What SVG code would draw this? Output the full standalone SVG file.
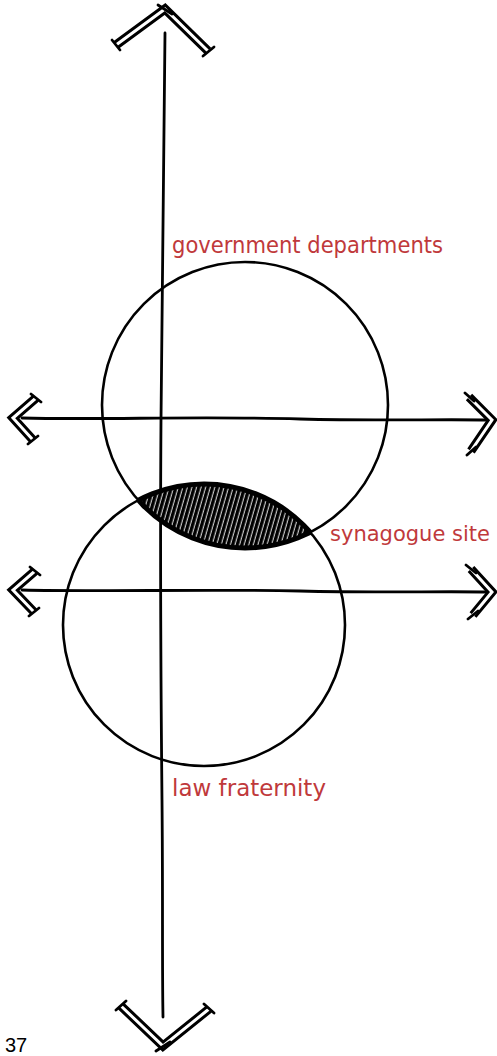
<svg xmlns="http://www.w3.org/2000/svg" width="497" height="1056" viewBox="0 0 497 1056">
<style>
.line{fill:none;stroke:#000;stroke-width:2.8;stroke-linecap:round;stroke-linejoin:round}
.ring{fill:none;stroke:#000;stroke-width:2.6}
.chevO{fill:none;stroke:#000;stroke-width:9;stroke-linejoin:miter;stroke-linecap:butt}
.chevI{fill:none;stroke:#fff;stroke-width:3;stroke-linejoin:miter;stroke-linecap:butt}
.tick{fill:none;stroke:#000;stroke-width:2.8;stroke-linecap:round}
.lbl{font-family:"DejaVu Sans","Liberation Sans",sans-serif;font-size:23px;fill:#c0393b}
</style>
<defs>
<pattern id="hatch" patternUnits="userSpaceOnUse" width="4.4" height="6" patternTransform="rotate(16)">
<rect width="4.4" height="6" fill="#000"/>
<line x1="2" y1="0" x2="2" y2="6" stroke="#fff" stroke-width="0.9"/>
</pattern>
<clipPath id="lowerClip"><circle cx="204" cy="625" r="141"/></clipPath>
<clipPath id="upperClip"><circle cx="245" cy="405" r="143"/></clipPath>
</defs>
<g id="connectors">
<g id="axis-vertical">
<path class="line" d="M165,33 C163,120 162,250 161,420 C160,560 161,700 162,800 C163,900 162,960 163,1017"/>
<path class="chevO" d="M116,45 L165,9 L208,51"/>
<path class="chevI" d="M116,45 L165,9 L208,51"/>
<path class="tick" d="M158,5 L172,14 M112,40 L120,50 M203,56 L214,47"/>
<path class="chevO" d="M121,1006 L163,1046 L209,1009"/>
<path class="chevI" d="M121,1006 L163,1046 L209,1009"/>
<path class="tick" d="M156,1051 L170,1042 M116,1010 L126,1001 M204,1004 L214,1013"/>
</g>
<g id="axis-upper">
<path class="line" d="M22,418 C100,420 200,416 300,419 C380,421 440,419 490,420"/>
<path class="chevO" d="M36,398 L13,418 L33,440"/>
<path class="chevI" d="M36,398 L13,418 L33,440"/>
<path class="chevO" d="M469,397 L492,420 L471,451"/>
<path class="chevI" d="M469,397 L492,420 L471,451"/>
<path class="tick" d="M31,394 L41,402 M28,444 L38,436 M465,393 L474,401 M467,455 L476,447"/>
</g>
<g id="axis-lower">
<path class="line" d="M22,590 C100,592 200,589 300,591 C380,593 440,591 490,592"/>
<path class="chevO" d="M35,571 L13,590 L34,612"/>
<path class="chevI" d="M35,571 L13,590 L34,612"/>
<path class="chevO" d="M471,569 L492,592 L473,615"/>
<path class="chevI" d="M471,569 L492,592 L473,615"/>
<path class="tick" d="M30,567 L40,575 M29,616 L39,608 M466,565 L476,573 M468,619 L478,611"/>
</g>
</g>
<g id="node-government-departments">
<circle class="ring" cx="245" cy="405" r="143"/>
<text class="lbl" x="172" y="253" textLength="271" lengthAdjust="spacingAndGlyphs">government departments</text>
</g>
<g id="node-law-fraternity">
<circle class="ring" cx="204" cy="625" r="141"/>
<text class="lbl" x="172" y="796" textLength="154" lengthAdjust="spacingAndGlyphs">law fraternity</text>
</g>
<g id="node-synagogue-site">
<circle cx="245" cy="405" r="143" fill="url(#hatch)" stroke="#000" stroke-width="5" clip-path="url(#lowerClip)"/>
<circle cx="204" cy="625" r="141" fill="none" stroke="#000" stroke-width="5" clip-path="url(#upperClip)"/>
<text class="lbl" x="330" y="541" font-size="21" textLength="160" lengthAdjust="spacingAndGlyphs" style="font-size:21px">synagogue site</text>
</g>
<text x="5" y="1052" font-family="Liberation Sans, Arial, sans-serif" font-size="20" fill="#000">37</text>
</svg>
